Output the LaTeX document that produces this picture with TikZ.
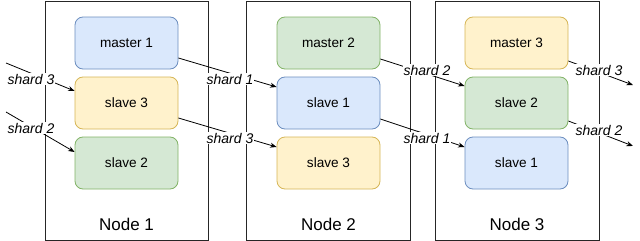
\documentclass[tikz,border=0pt]{standalone}
\usepackage{fontspec}
\setmainfont{Liberation Sans}
\usetikzlibrary{arrows.meta}
\definecolor{bluefill}{HTML}{DAE8FC}
\definecolor{bluedraw}{HTML}{6C8EBF}
\definecolor{greenfill}{HTML}{D5E8D4}
\definecolor{greendraw}{HTML}{82B366}
\definecolor{yellowfill}{HTML}{FFF2CC}
\definecolor{yellowdraw}{HTML}{D6B656}
\begin{document}
\begin{tikzpicture}[x=1pt,y=-1pt,
  outerbox/.style={draw=black!85, line width=0.9pt, minimum height=239pt, inner sep=0pt},
  nodetitle/.style={font=\fontsize{17}{20}\selectfont, inner sep=0pt},
  inner/.style={draw, line width=0.8pt, rounded corners=8pt, minimum width=103pt, minimum height=52pt, inner sep=0pt, font=\fontsize{13.6}{16}\selectfont},
  bluebox/.style={inner, fill=bluefill, draw=bluedraw},
  greenbox/.style={inner, fill=greenfill, draw=greendraw},
  yellowbox/.style={inner, fill=yellowfill, draw=yellowdraw},
  edge/.style={draw=black, line width=0.8pt, -{Stealth[length=6.5pt,width=5pt]}},
  shardlabel/.style={fill=white, inner sep=0.6pt, font=\fontsize{14}{16}\selectfont\itshape}
]
\useasboundingbox (0,0) rectangle (640,241);

% outer boxes
\node[outerbox, minimum width=163pt] (n1) at (126.5,120.5) {};
\node[outerbox, minimum width=164pt] (n2) at (328,120.5) {};
\node[outerbox, minimum width=164pt] (n3) at (517,120.5) {};
\node[nodetitle] (t1) at (126.5,224) {Node 1};
\node[nodetitle] (t2) at (328.5,224) {Node 2};
\node[nodetitle] (t3) at (517,224) {Node 3};

% inner boxes
\node[bluebox] (m1) at (126.5,43) {master 1};
\node[yellowbox] (s3a) at (126.5,103) {slave 3};
\node[greenbox] (s2a) at (126.5,163) {slave 2};

\node[greenbox] (m2) at (328.5,43) {master 2};
\node[bluebox] (s1b) at (328.5,103) {slave 1};
\node[yellowbox] (s3b) at (328.5,163) {slave 3};

\node[yellowbox] (m3) at (516.5,43) {master 3};
\node[greenbox] (s2c) at (516.5,103) {slave 2};
\node[bluebox] (s1c) at (516.5,163) {slave 1};

% free ends
\coordinate (in1) at (6,63);
\coordinate (in2) at (6,112);
\coordinate (out1) at (633,85);
\coordinate (out2) at (633,146);

% connectors
\draw[edge] (in1) -- ([yshift=12pt]s3a.west);
\draw[edge] (in2) -- ([yshift=11pt]s2a.west);
\draw[edge] ([yshift=-15pt]m1.east) -- ([yshift=16pt]s1b.west);
\draw[edge] ([yshift=-15pt]s3a.east) -- ([yshift=16pt]s3b.west);
\draw[edge] ([yshift=-16pt]m2.east) -- ([yshift=17pt]s2c.west);
\draw[edge] ([yshift=-16pt]s1b.east) -- ([yshift=16pt]s1c.west);
\draw[edge] ([yshift=-18pt]m3.east) -- (out1);
\draw[edge] ([yshift=-18pt]s2c.east) -- (out2);

% labels
\node[shardlabel] (l1) at (31,79) {shard 3};
\node[shardlabel] (l2) at (31,128) {shard 2};
\node[shardlabel] (l3) at (230,79) {shard 1};
\node[shardlabel] (l4) at (230,138) {shard 3};
\node[shardlabel] (l5) at (427,70) {shard 2};
\node[shardlabel] (l6) at (427,138) {shard 1};
\node[shardlabel] (l7) at (599,70) {shard 3};
\node[shardlabel] (l8) at (599,130) {shard 2};
\end{tikzpicture}
\end{document}
